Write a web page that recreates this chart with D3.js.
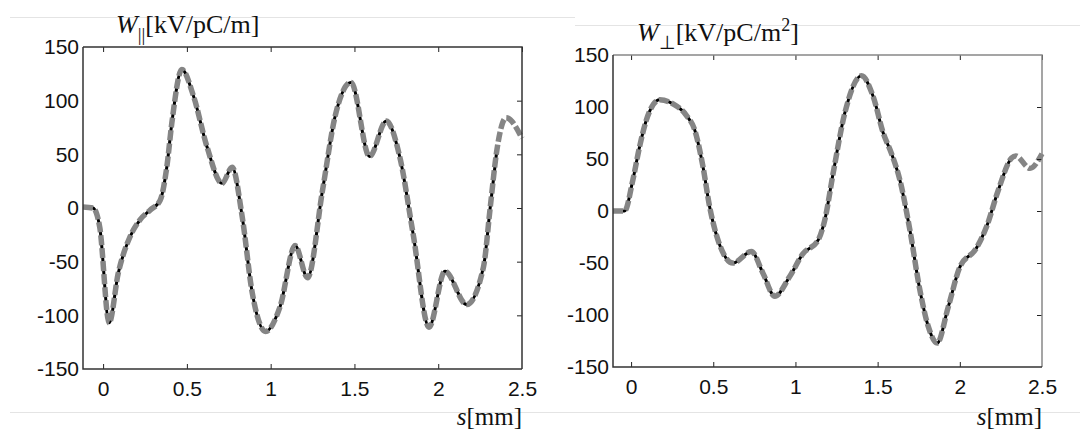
<!DOCTYPE html>
<meta charset="utf-8">
<style>
  body { margin: 0; background: #fff; }
  .tick text { font: 21px "Liberation Sans", Arial, sans-serif; fill: #111; }
  .lab { font-family: "Liberation Serif", "Times New Roman", serif; fill: #111; }
</style>
<body>
<script src="https://d3js.org/d3.v7.min.js"></script>
<script>
// tick labels
var sTicks = [0, 0.5, 1, 1.5, 2, 2.5];
var wTicks = [-150, -100, -50, 0, 50, 100, 150];

// longitudinal wake W_||
var sPar = [-0.12, -0.06, -0.02, 0.036, 0.09, 0.16, 0.22, 0.28, 0.34, 0.38, 0.41, 0.47, 0.54, 0.62, 0.71, 0.77,
            0.83, 0.89, 0.97, 1.056, 1.146, 1.22, 1.31, 1.384, 1.48, 1.59, 1.69, 1.77, 1.85, 1.945, 2.04, 2.17,
            2.27, 2.31, 2.35, 2.405, 2.5];
var wPar = [1, 0, -18, -107, -61, -27, -11, -2, 7, 38, 79, 129, 104, 57, 23, 38,
            -8, -79, -115, -92, -35, -65, 17, 85, 117, 48, 81, 48, -24, -111, -59, -90,
            -55, 0, 54, 84, 65];
var sParEnd = 2.35;   // where the black curve stops

// transverse wake W_perp
var sPerp = [-0.11, -0.04, 0.011, 0.052, 0.092, 0.174, 0.255, 0.336, 0.387, 0.437, 0.478, 0.529, 0.62, 0.732,
             0.803, 0.874, 0.965, 1.046, 1.138, 1.178, 1.229, 1.3, 1.402, 1.473, 1.534, 1.585, 1.635, 1.696,
             1.757, 1.808, 1.862, 1.93, 2.0, 2.1, 2.163, 2.234, 2.315, 2.34, 2.427, 2.5];
var wPerp = [0, 0, 30, 62, 87, 107, 103, 92, 78, 43, 4, -28, -50, -39,
             -60, -82, -63, -41, -28, -9, 36, 94, 130, 110, 75, 55, 30, -18,
             -76, -111, -127, -92, -54, -36, -15, 20, 51, 53, 41, 55];
var sPerpEnd = 2.34;

var svg = d3.select("body").append("svg")
    .attr("width", 1080)
    .attr("height", 435);

// faint page-edge lines from the scan
var edges = [[10, 540, 17], [540, 575, 17], [575, 1080, 25], [10, 1080, 412]];
svg.selectAll(".edge").data(edges).enter().append("line")
    .attr("x1", function(d) { return d[0]; })
    .attr("x2", function(d) { return d[1]; })
    .attr("y1", function(d) { return d[2] + 0.5; })
    .attr("y2", function(d) { return d[2] + 0.5; })
    .attr("stroke", "#e4e4e4");

var panels = [
  {s: sPar, w: wPar, end: sParEnd, xr: [83, 522], yr: [369, 47], x0: -0.12, edge: "#333",
   title: [116, 33], sub: "||", sup: null, unit: "[kV/pC/m", lab: 425},
  {s: sPerp, w: wPerp, end: sPerpEnd, xr: [613, 1042], yr: [367, 55], x0: -0.11, edge: "#888",
   title: [637, 41], sub: "\u22a5", sup: "2", unit: "[kV/pC/m", lab: 425}
];

panels.forEach(function(p) {
  var x = d3.scaleLinear().domain([p.x0, 2.5]).range(p.xr);
  var y = d3.scaleLinear().domain([-150, 150]).range(p.yr);
  var g = svg.append("g");

  var pts = p.s.map(function(s, i) { return {s: s, w: p.w[i]}; });
  var line = d3.line()
      .x(function(d) { return x(d.s); })
      .y(function(d) { return y(d.w); })
      .curve(d3.curveMonotoneX);

  // black solid under, grey dashed on top
  g.append("path")
      .datum(pts.filter(function(d) { return d.s <= p.end; }))
      .attr("d", line)
      .attr("fill", "none")
      .attr("stroke", "#000")
      .attr("stroke-width", 3);
  g.append("path")
      .datum(pts)
      .attr("d", line)
      .attr("fill", "none")
      .attr("stroke", "#858585")
      .attr("stroke-width", 5.5)
      .attr("stroke-dasharray", "10,3");

  // axes, ticks pointing in
  var fmt = function(d) { return String(d); };
  var bottom = g.append("g")
      .attr("transform", "translate(0," + p.yr[0] + ")")
      .call(d3.axisBottom(x).tickValues(sTicks).tickSize(-5).tickSizeOuter(0).tickPadding(12)
            .tickFormat(fmt));
  g.append("g")
      .attr("transform", "translate(0," + p.yr[1] + ")")
      .call(d3.axisTop(x).tickValues(sTicks).tickSize(-5).tickSizeOuter(0).tickFormat(""));
  g.append("g")
      .attr("transform", "translate(" + p.xr[1] + ",0)")
      .call(d3.axisRight(y).tickValues(wTicks.slice(1, -1)).tickSize(-5).tickSizeOuter(0).tickFormat(""));
  g.append("g")
      .attr("transform", "translate(" + p.xr[0] + ",0)")
      .call(d3.axisLeft(y).tickValues(wTicks).tickSize(0).tickPadding(4).tickFormat(fmt));
  g.selectAll(".domain").remove();
  g.selectAll(".tick line").attr("stroke", "#222");
  bottom.selectAll(".tick:last-child line").remove();

  // box
  g.append("path")
      .attr("d", "M" + p.xr[0] + "," + p.yr[1] + "H" + p.xr[1] + "V" + p.yr[0])
      .attr("fill", "none").attr("stroke", p.edge).attr("stroke-width", 1.5);
  g.append("path")
      .attr("d", "M" + p.xr[0] + "," + p.yr[1] + "V" + p.yr[0] + "H" + p.xr[1])
      .attr("fill", "none").attr("stroke", "#333").attr("stroke-width", 1.5);

  // title
  var t = svg.append("text").attr("class", "lab")
      .attr("x", p.title[0]).attr("y", p.title[1])
      .style("font-size", "26px");
  t.append("tspan").style("font-style", "italic").text("W");
  t.append("tspan").attr("dy", 8).style("font-size", "19px").text(p.sub);
  t.append("tspan").attr("dy", -8).text(p.unit);
  if (p.sup) t.append("tspan").attr("dy", -10).style("font-size", "18px").text(p.sup);
  t.append("tspan").attr("dy", p.sup ? 10 : 0).text("]");

  // s[mm]
  var sl = svg.append("text").attr("class", "lab")
      .attr("x", p.xr[1]).attr("y", p.lab)
      .attr("text-anchor", "end")
      .style("font-size", "25px");
  sl.append("tspan").style("font-style", "italic").text("s");
  sl.append("tspan").text("[mm]");
});
</script>
</body>
